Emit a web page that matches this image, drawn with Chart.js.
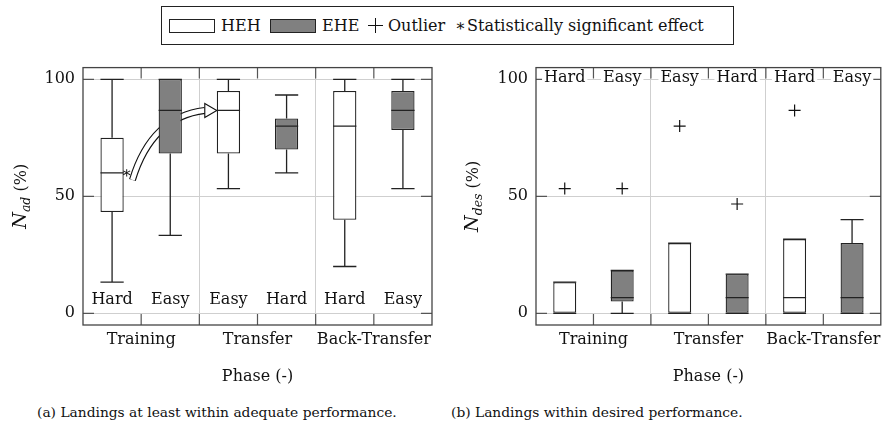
<!DOCTYPE html>
<html lang="en">
<head>
<meta charset="UTF-8">
<title>Landings per phase</title>
<style>
  body { margin: 0; background: #fff; font-family: "DejaVu Serif", serif; color: #111; }
  .page { position: relative; width: 888px; height: 431px; overflow: hidden; }
  .legend { position: absolute; left: 161px; top: 6px; width: 573px; height: 39px; box-sizing: border-box; border: 1px solid #222; }
  .legend span { position: absolute; top: 0; line-height: 37px; font-size: 16px; white-space: nowrap; }
  .legend .swatch { top: 12px; height: 14px; width: 46px; box-sizing: border-box; border: 1px solid #222; }
  .legend .plus { top: 11px; width: 15px; height: 15px; }
  .legend .plus::before, .legend .plus::after { content: ""; position: absolute; background: #111; }
  .legend .plus::before { left: 0; top: 7px; width: 15px; height: 1.2px; }
  .legend .plus::after { left: 7px; top: 0; width: 1.2px; height: 15px; }
  .chart { position: absolute; top: 50px; }
  .caption { position: absolute; top: 404px; font-size: 13.8px; white-space: nowrap; }
</style>
</head>
<body>
<div class="page">
  <div class="legend">
    <span class="swatch" style="left:7px;background:#fff"></span>
    <span style="left:59px">HEH</span>
    <span class="swatch" style="left:108px;background:#808080"></span>
    <span style="left:160px">EHE</span>
    <span class="plus" style="left:206px"></span>
    <span style="left:226px">Outlier</span>
    <span style="left:293px">∗</span>
    <span style="left:305px">Statistically significant effect</span>
  </div>
  <canvas id="adequateChart" class="chart" style="left:0" width="444" height="345"></canvas>
  <canvas id="desiredChart" class="chart" style="left:444px" width="444" height="345"></canvas>
  <div class="caption" style="left:37px">(a) Landings at least within adequate performance.</div>
  <div class="caption" style="left:451px">(b) Landings within desired performance.</div>
</div>

<script src="https://cdn.jsdelivr.net/npm/chart.js"></script>
<script>
  // phases on the x axis, box labels in plot order
  const phases = ['Training', 'Transfer', 'Back-Transfer'];
  const hehLabels = ['Hard', 'Easy', 'Hard'];
  const eheLabels = ['Easy', 'Hard', 'Easy'];
  const yTicks = [0, 50, 100];

  // box stats per phase: [min, q1, median, q3, max] in %
  const hehAdequate = [[13.3, 43.3, 60, 75, 100], [53.3, 68.3, 86.7, 95, 100], [20, 40, 80, 95, 100]];
  const eheAdequate = [[33.3, 68.3, 86.7, 100, 100], [60, 70, 80, 83.3, 93.3], [53.3, 78.3, 86.7, 95, 100]];
  const hehDesired = [[0, 0, 0, 13.3, 13.3], [0, 0, 0, 30, 30], [0, 0, 6.7, 31.7, 31.7]];
  const eheDesired = [[0, 5, 6.7, 18.3, 18.3], [0, 0, 6.7, 16.7, 16.7], [0, 0, 6.7, 30, 40]];

  // outliers per phase (null = none)
  const hehAdequateOutliers = [null, null, null];
  const eheAdequateOutliers = [null, null, null];
  const hehDesiredOutliers = [53.3, 80, 86.7];
  const eheDesiredOutliers = [53.3, 46.7, null];

  const FONT = '"DejaVu Serif", serif';

  function buildBoxes(heh, ehe) {
    const boxes = [];
    phases.forEach((p, i) => {
      boxes.push({ x: 2 * i + 1, s: heh[i], fill: '#ffffff', label: hehLabels[i] });
      boxes.push({ x: 2 * i + 2, s: ehe[i], fill: '#808080', label: eheLabels[i] });
    });
    return boxes;
  }

  function buildOutliers(hehOut, eheOut) {
    const pts = [];
    phases.forEach((p, i) => {
      if (hehOut[i] !== null) pts.push({ x: 2 * i + 1, y: hehOut[i] });
      if (eheOut[i] !== null) pts.push({ x: 2 * i + 2, y: eheOut[i] });
    });
    return pts;
  }

  function drawYTitle(ctx, cx, cy, sub) {
    ctx.save();
    ctx.translate(cx, cy);
    ctx.rotate(-Math.PI / 2);
    ctx.fillStyle = '#111';
    ctx.textBaseline = 'alphabetic';
    const fN = 'italic 19px ' + FONT, fS = 'italic 12.5px ' + FONT, fR = '16px ' + FONT;
    ctx.font = fN; const wN = ctx.measureText('N').width;
    ctx.font = fS; const wS = ctx.measureText(sub).width;
    ctx.font = fR; const wR = ctx.measureText(' (%)').width;
    let x0 = -(wN + wS + wR) / 2;
    ctx.font = fN; ctx.fillText('N', x0, 6);
    ctx.font = fS; ctx.fillText(sub, x0 + wN, 10);
    ctx.font = fR; ctx.fillText(' (%)', x0 + wN + wS, 6);
    ctx.restore();
  }

  const boxPlugin = {
    id: 'boxes',
    beforeDatasetsDraw(chart, args, opts) {
      const { ctx, chartArea: a, scales: { x, y } } = chart;
      ctx.save();
      // inner tick marks
      ctx.strokeStyle = '#555';
      ctx.lineWidth = 1.2;
      ctx.beginPath();
      x.ticks.forEach(t => {
        const px = x.getPixelForValue(t.value);
        ctx.moveTo(px, a.top); ctx.lineTo(px, a.top + 11);
        ctx.moveTo(px, a.bottom); ctx.lineTo(px, a.bottom - 11);
      });
      y.ticks.forEach(t => {
        const py = y.getPixelForValue(t.value);
        ctx.moveTo(a.left, py); ctx.lineTo(a.left + 11, py);
        ctx.moveTo(a.right, py); ctx.lineTo(a.right - 11, py);
      });
      ctx.stroke();

      // hollow arrow for the significant effect
      if (opts.arrow) {
        const p = opts.arrow.map(([vx, vy]) => [x.getPixelForValue(vx), y.getPixelForValue(vy)]);
        const head = 12;
        const baseX = p[2][0] - head;
        ctx.lineCap = 'butt';
        ctx.beginPath();
        ctx.moveTo(p[0][0], p[0][1]);
        ctx.quadraticCurveTo(p[1][0], p[1][1], baseX, p[2][1]);
        ctx.strokeStyle = '#111'; ctx.lineWidth = 7; ctx.stroke();
        ctx.strokeStyle = '#fff'; ctx.lineWidth = 4.8; ctx.stroke();
        ctx.beginPath();
        ctx.moveTo(baseX, p[2][1] - 7);
        ctx.lineTo(p[2][0], p[2][1]);
        ctx.lineTo(baseX, p[2][1] + 7);
        ctx.closePath();
        ctx.fillStyle = '#fff'; ctx.fill();
        ctx.strokeStyle = '#111'; ctx.lineWidth = 1.1; ctx.stroke();
      }
      ctx.restore();
    },
    afterDatasetsDraw(chart, args, opts) {
      const { ctx, scales: { x, y } } = chart;
      const bars = chart.getDatasetMeta(0).data;
      ctx.save();
      ctx.strokeStyle = '#222';
      ctx.lineWidth = 1.3;
      opts.boxes.forEach((b, i) => {
        const px = x.getPixelForValue(b.x);
        const hw = bars[i].width / 2;
        const [mn, q1, md, q3, mx] = b.s.map(v => y.getPixelForValue(v));
        ctx.beginPath();
        ctx.moveTo(px, q3); ctx.lineTo(px, mx);
        ctx.moveTo(px - hw, mx); ctx.lineTo(px + hw, mx);
        ctx.moveTo(px, q1); ctx.lineTo(px, mn);
        ctx.moveTo(px - hw, mn); ctx.lineTo(px + hw, mn);
        ctx.moveTo(px - hw, md); ctx.lineTo(px + hw, md);
        ctx.stroke();
      });
      // condition labels
      ctx.font = '16px ' + FONT;
      ctx.textAlign = 'center';
      ctx.textBaseline = 'middle';
      opts.boxes.forEach(b => {
        const px = x.getPixelForValue(b.x);
        const py = y.getPixelForValue(opts.labelY);
        const w = ctx.measureText(b.label).width;
        ctx.fillStyle = '#fff';
        ctx.fillRect(px - w / 2 - 2, py - 9, w + 4, 18);
        ctx.fillStyle = '#111';
        ctx.fillText(b.label, px, py + 1);
      });
      // significance marker
      if (opts.star) {
        const b = opts.boxes[opts.star.box];
        const px = x.getPixelForValue(b.x) + bars[opts.star.box].width / 2 + 3;
        ctx.fillText('∗', px, y.getPixelForValue(b.s[2]) + 1);
      }
      ctx.restore();
    },
    afterDraw(chart, args, opts) {
      const { ctx, chartArea: a } = chart;
      ctx.save();
      ctx.strokeStyle = '#444';
      ctx.lineWidth = 1.3;
      ctx.strokeRect(a.left, a.top, a.right - a.left, a.bottom - a.top);
      ctx.fillStyle = '#111';
      ctx.font = '16px ' + FONT;
      ctx.textAlign = 'center';
      ctx.textBaseline = 'middle';
      ctx.fillText('Phase (-)', (a.left + a.right) / 2, a.bottom + 52);
      ctx.restore();
      drawYTitle(ctx, opts.titleX, (a.top + a.bottom) / 2, opts.sub);
    }
  };

  function makeChart(id, heh, ehe, hehOut, eheOut, extra) {
    const boxes = buildBoxes(heh, ehe);
    return new Chart(document.getElementById(id), {
      type: 'bar',
      data: {
        datasets: [
          {
            data: boxes.map(b => ({ x: b.x, y: [b.s[1], b.s[3]] })),
            backgroundColor: boxes.map(b => b.fill),
            borderColor: '#222',
            borderWidth: 1.3,
            borderSkipped: false,
            barPercentage: 0.4,
            categoryPercentage: 1
          },
          {
            type: 'scatter',
            data: buildOutliers(hehOut, eheOut),
            pointStyle: 'cross',
            radius: 6,
            borderColor: '#111',
            borderWidth: 1.2
          }
        ]
      },
      options: {
        responsive: false,
        animation: false,
        layout: { padding: { top: 14, right: extra.padRight, left: 0, bottom: 0 } },
        plugins: {
          legend: { display: false },
          tooltip: { enabled: false },
          boxes: { boxes: boxes, labelY: extra.labelY, arrow: extra.arrow, star: extra.star, sub: extra.sub, titleX: extra.titleX }
        },
        scales: {
          x: {
            type: 'linear',
            min: 0.5,
            max: 6.5,
            offset: false,
            afterBuildTicks: s => { s.ticks = [1.5, 2.5, 3.5, 4.5, 5.5].map(v => ({ value: v })); },
            afterFit: s => { s.height = 70; },
            ticks: {
              autoSkip: false,
              maxRotation: 0,
              padding: 5,
              color: '#111',
              font: { family: FONT, size: 16 },
              callback: v => (v % 2 === 1.5 ? phases[(v - 1.5) / 2] : '')
            },
            grid: {
              offset: false,
              drawTicks: false,
              color: c => (c.tick && c.tick.value % 2 === 0.5 ? '#cfcfcf' : 'rgba(0,0,0,0)')
            },
            border: { display: false }
          },
          y: {
            min: -5,
            max: 105,
            afterBuildTicks: s => { s.ticks = yTicks.map(v => ({ value: v })); },
            afterFit: s => { s.width = extra.yWidth; },
            ticks: { padding: 8, color: '#111', font: { family: FONT, size: 16 } },
            grid: { drawTicks: false, color: '#cfcfcf' },
            border: { display: false }
          }
        }
      },
      plugins: [boxPlugin]
    });
  }

  makeChart('adequateChart', hehAdequate, eheAdequate, hehAdequateOutliers, eheAdequateOutliers, {
    padRight: 12, yWidth: 83, labelY: 6, sub: 'ad', titleX: 20,
    star: { box: 0 },
    arrow: [[1.35, 57], [1.68, 84], [2.8, 86.7]]
  });

  makeChart('desiredChart', hehDesired, eheDesired, hehDesiredOutliers, eheDesiredOutliers, {
    padRight: 5, yWidth: 92, labelY: 101, sub: 'des', titleX: 28
  });
</script>
</body>
</html>
